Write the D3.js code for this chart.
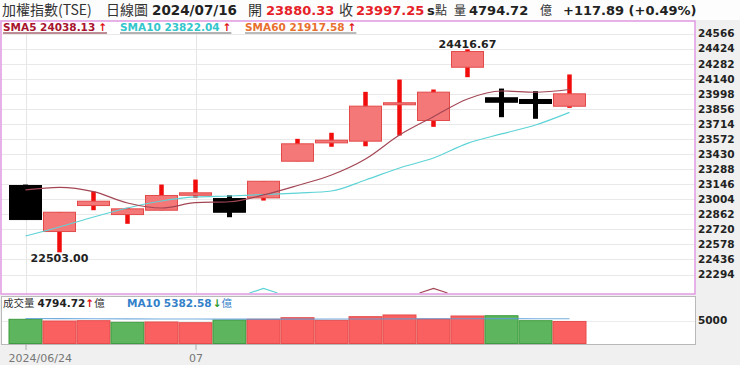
<!DOCTYPE html>
<html>
<head>
<meta charset="utf-8">
<script src="https://cdn.jsdelivr.net/npm/d3@7"></script>
<style>
  body { margin: 0; background: #eff0ef; }
  svg { display: block; }
  .num { font-family: "DejaVu Sans", Verdana, sans-serif; font-weight: bold; }
  .cjk { font-family: "Noto Sans CJK TC", "Noto Sans CJK SC", sans-serif; }
  .plain { font-family: "DejaVu Sans", Verdana, sans-serif; }
</style>
</head>
<body>
<svg id="chart" width="740" height="365"></svg>
<script>
// daily bars, 2024/06/24 .. 2024/07/16
var dates = ["2024/06/24", "2024/06/25", "2024/06/26", "2024/06/27", "2024/06/28",
  "2024/07/01", "2024/07/02", "2024/07/03", "2024/07/04", "2024/07/05",
  "2024/07/08", "2024/07/09", "2024/07/10", "2024/07/11", "2024/07/12",
  "2024/07/15", "2024/07/16"];
var openVals  = [23133, 22699, 22944, 22859, 22900, 23041, 23010, 23016, 23362, 23535, 23551, 23894, 23746, 24248, 23960, 23944, 23880.33];
var highVals  = [23142, 22881, 23076, 22923, 23142, 23189, 23041, 23173, 23573, 23630, 24016, 24132, 24038, 24416.67, 24047, 24022, 24180];
var lowVals   = [22812, 22503, 22900, 22772, 22900, 23017, 22834, 22991, 23362, 23498, 23503, 23604, 23686, 24154, 23777, 23762, 23865];
var closeVals = [22812, 22881, 22985, 22913, 23039, 23064, 22881, 23173, 23526, 23560, 23881, 23913, 24013, 24396, 23918, 23906, 23997.25];

var sma5  = [23091, 23116, 23075, 22968, 22921, 22971, 22980, 23044, 23133, 23232, 23383, 23609, 23782, 23949, 24024, 24012, 24038.13];
var sma10 = [22657, 22742, 22836, 22921, 22987, 23025, 23034, 23048, 23062, 23081, 23185, 23298, 23392, 23530, 23619, 23703, 23822.04];
var sma60Last = 21917.58;

// volume in 億
var volume = [5260, 4890, 4960, 4610, 4670, 4520, 5110, 5260, 5610, 5040, 5830, 6200, 5330, 5980, 6040, 4960, 4794.72];
var volMa10 = [5420, 5400, 5380, 5350, 5330, 5310, 5300, 5290, 5300, 5310, 5330, 5360, 5370, 5390, 5400, 5390, 5382.58];

var priceTicks = [24566, 24424, 24282, 24140, 23998, 23856, 23714, 23572, 23430, 23288, 23146, 23004, 22862, 22720, 22578, 22436, 22294];
var volTicks = [5000];
var xTickDates = ["2024/06/24", "2024/07/01"];
var xTickText = ["2024/06/24", "07"];

var sma10MarkDates = ["2024/07/03"];
var sma5MarkDates = ["2024/07/10"];

var dayChange = 117.89;
var dayChangePct = 0.49;

var svg = d3.select("#chart");
var panel = {left: 1, right: 695, top: 21, bottom: 294};
var volPanel = {left: 1, right: 695, top: 296, bottom: 344};
var last = dates.length - 1;
var fmt2 = d3.format(".2f");

var x = d3.scalePoint().domain(dates).range([25.5, 569.5]);
var y = d3.scaleLinear().domain([22294, 24566]).range([274.5, 33.5]);
var yv = d3.scaleLinear().domain([0, 5000]).range([343.5, 320.5]);
var bodyW = 32;

var RED = "#e61e28";
var SMA5_LINE = "#a34654", SMA10_LINE = "#5ed3d6";

var drawBackground = function() {
  svg.append("rect").attr("width", 740).attr("height", 20).attr("fill", "#fdfdfd");
  svg.append("rect")
    .attr("x", panel.left).attr("y", panel.top)
    .attr("width", panel.right - panel.left).attr("height", panel.bottom - panel.top)
    .attr("fill", "#fff");
  svg.append("rect")
    .attr("x", volPanel.left).attr("y", volPanel.top)
    .attr("width", volPanel.right - volPanel.left).attr("height", volPanel.bottom - volPanel.top)
    .attr("fill", "#fff");
  svg.append("clipPath").attr("id", "clipMain").append("rect")
    .attr("x", panel.left).attr("y", panel.top)
    .attr("width", panel.right - panel.left).attr("height", panel.bottom - panel.top);
};

var drawGrid = function() {
  var g = svg.append("g").attr("clip-path", "url(#clipMain)");
  g.selectAll("line.h").data(priceTicks).enter().append("line")
    .attr("x1", panel.left).attr("x2", panel.right)
    .attr("y1", function (d) { return Math.round(y(d)) + 0.5; })
    .attr("y2", function (d) { return Math.round(y(d)) + 0.5; })
    .attr("stroke", "#e9e9e9");
  g.selectAll("line.v").data(xTickDates).enter().append("line")
    .attr("x1", function (d) { return Math.round(x(d)) + 0.5; })
    .attr("x2", function (d) { return Math.round(x(d)) + 0.5; })
    .attr("y1", 33).attr("y2", panel.bottom)
    .attr("stroke", "#e6e6e6");
  // volume grid
  svg.selectAll("line.vg").data(volTicks).enter().append("line")
    .attr("x1", volPanel.left).attr("x2", volPanel.right)
    .attr("y1", function (d) { return Math.round(yv(d)) + 0.5; })
    .attr("y2", function (d) { return Math.round(yv(d)) + 0.5; })
    .attr("stroke", "#ececec");
};

var drawMarks = function(list, color) {
  svg.selectAll(null).data(list).enter().append("path")
    .attr("d", function (d) {
      var cx = x(d);
      return "M" + (cx - 14) + ",293 L" + cx + ",288.5 L" + (cx + 14) + ",293";
    })
    .attr("fill", "none").attr("stroke", color).attr("stroke-width", 1.2);
};

var drawCandles = function() {
  var g = svg.append("g").attr("clip-path", "url(#clipMain)");
  var idx = d3.range(dates.length);
  var isUp = function (i) { return closeVals[i] >= openVals[i]; };

  g.selectAll("line.wick").data(idx).enter().append("line")
    .attr("x1", function (i) { return x(dates[i]); })
    .attr("x2", function (i) { return x(dates[i]); })
    .attr("y1", function (i) { return y(highVals[i]); })
    .attr("y2", function (i) { return y(lowVals[i]); })
    .attr("stroke", function (i) { return isUp(i) ? "#f20d0d" : "#000"; })
    .attr("stroke-width", function (i) { return isUp(i) ? 4.5 : 5; });

  g.selectAll("rect.body").data(idx).enter().append("rect")
    .attr("x", function (i) { return x(dates[i]) - bodyW / 2; })
    .attr("y", function (i) { return y(Math.max(openVals[i], closeVals[i])); })
    .attr("width", bodyW)
    .attr("height", function (i) { return Math.max(1.5, Math.abs(y(openVals[i]) - y(closeVals[i]))); })
    .attr("fill", function (i) { return isUp(i) ? "#f57878" : "#000"; })
    .attr("stroke", function (i) { return isUp(i) ? "#e24a4a" : "#000"; })
    .attr("stroke-width", 1);
};

var drawLine = function(values, color) {
  var line = d3.line()
    .x(function (d, i) { return x(dates[i]); })
    .y(function (d) { return y(d); })
    .curve(d3.curveMonotoneX);
  svg.append("path").attr("clip-path", "url(#clipMain)")
    .attr("d", line(values))
    .attr("fill", "none").attr("stroke", color).attr("stroke-width", 1.2);
};

var labelExtremes = function() {
  var hi = d3.maxIndex(highVals), lo = d3.minIndex(lowVals);
  svg.append("text").attr("class", "num").attr("font-size", 11)
    .attr("text-anchor", "middle").attr("fill", "#222")
    .attr("x", x(dates[hi])).attr("y", y(highVals[hi]) - 1.5)
    .text(fmt2(highVals[hi]));
  svg.append("text").attr("class", "num").attr("font-size", 11)
    .attr("text-anchor", "middle").attr("fill", "#222")
    .attr("x", x(dates[lo])).attr("y", y(lowVals[lo]) + 10)
    .text(fmt2(lowVals[lo]));
};

var drawVolume = function() {
  var idx = d3.range(dates.length);
  var isUp = function (i) {
    var prev = i === 0 ? openVals[0] : closeVals[i - 1];
    return closeVals[i] >= prev;
  };
  svg.selectAll("rect.vol").data(idx).enter().append("rect")
    .attr("x", function (i) { return x(dates[i]) - 16.5; })
    .attr("y", function (i) { return yv(volume[i]); })
    .attr("width", 33)
    .attr("height", function (i) { return yv(0) - yv(volume[i]); })
    .attr("fill", function (i) { return isUp(i) ? "#fb6060" : "#5db65d"; })
    .attr("stroke", function (i) { return isUp(i) ? "#e44c4c" : "#3f9b3f"; })
    .attr("stroke-width", 1);
  var line = d3.line()
    .x(function (d, i) { return x(dates[i]); })
    .y(function (d) { return yv(d); });
  svg.append("path").attr("d", line(volMa10))
    .attr("fill", "none").attr("stroke", "#5d9fd8").attr("stroke-width", 1.1).attr("opacity", 0.85);
};

var drawBorders = function() {
  svg.append("rect")
    .attr("x", panel.left).attr("y", panel.top)
    .attr("width", panel.right - panel.left).attr("height", panel.bottom - panel.top)
    .attr("fill", "none").attr("stroke", "#e29be2").attr("stroke-width", 1.5);
  svg.append("rect")
    .attr("x", volPanel.left + 0.5).attr("y", volPanel.top + 0.5)
    .attr("width", volPanel.right - volPanel.left).attr("height", volPanel.bottom - volPanel.top)
    .attr("fill", "none").attr("stroke", "#b9b9b9").attr("stroke-width", 1);
};

var drawAxes = function() {
  var ay = svg.append("g").attr("transform", "translate(" + panel.right + ",0)")
    .call(d3.axisRight(y).tickValues(priceTicks).tickSize(0).tickPadding(3).tickFormat(d3.format("d")));
  var av = svg.append("g").attr("transform", "translate(" + volPanel.right + ",0)")
    .call(d3.axisRight(yv).tickValues(volTicks).tickSize(0).tickPadding(3).tickFormat(d3.format("d")));
  [ay, av].forEach(function (a) {
    a.select(".domain").remove();
    a.selectAll("text").attr("class", "num").attr("font-size", 10.5).attr("fill", "#222");
  });

  var ax = svg.append("g").attr("transform", "translate(0," + volPanel.bottom + ")")
    .call(d3.axisBottom(x).tickValues(xTickDates).tickSize(6).tickPadding(6)
      .tickFormat(function (d) { return xTickText[xTickDates.indexOf(d)]; }));
  ax.select(".domain").remove();
  ax.selectAll("line").attr("stroke", "#aaa");
  ax.selectAll("text").attr("class", "plain").attr("font-size", 11).attr("fill", "#777")
    .attr("dy", "0.5em")
    .attr("x", function (d) {
      var w = this.getComputedTextLength();
      var cx = x(d);
      return Math.max(cx, 8 + w / 2) - cx;
    });
};

var drawLegend = function() {
  var items = [
    {name: "SMA5", value: sma5[last], color: "#a8142f", ul: "#7a1a2a", x: 3},
    {name: "SMA10", value: sma10[last], color: "#33c6cc", ul: "#666", x: 120},
    {name: "SMA60", value: sma60Last, color: "#e8702e", ul: "#777", x: 245}
  ];
  items.forEach(function (d) {
    var t = svg.append("text").attr("class", "num").attr("font-size", 10.5)
      .attr("x", d.x).attr("y", 31);
    t.append("tspan").attr("fill", d.color).text(d.name + " " + fmt2(d.value));
    t.append("tspan").attr("fill", "#e01010").attr("dx", 3).text("↑");
    var w = t.node().getComputedTextLength() + 3;
    svg.append("line").attr("x1", d.x).attr("x2", d.x + w)
      .attr("y1", 33).attr("y2", 33).attr("stroke", d.ul).attr("stroke-width", 1);
  });

  var v = svg.append("text").attr("x", 3).attr("y", 307).attr("font-size", 10.5);
  v.append("tspan").attr("class", "cjk").attr("fill", "#333").text("成交量");
  v.append("tspan").attr("class", "num").attr("fill", "#222").attr("dx", 3).text(fmt2(volume[last]));
  v.append("tspan").attr("class", "num").attr("fill", "#e01010").text("↑");
  v.append("tspan").attr("class", "cjk").attr("fill", "#333").text("億");

  var m = svg.append("text").attr("x", 127).attr("y", 307).attr("font-size", 10.5);
  m.append("tspan").attr("class", "num").attr("fill", "#3481c9").text("MA10 " + fmt2(volMa10[last]));
  m.append("tspan").attr("class", "num").attr("fill", "#2c9a2c").attr("dx", 1).text("↓");
  m.append("tspan").attr("class", "cjk").attr("fill", "#3481c9").text("億");
};

var drawHeader = function() {
  var sign = dayChange >= 0 ? "+" : "";
  var parts = [
    {t: "加權指數(TSE)", x: 2, c: "cjk", f: "#333", s: 14},
    {t: "日線圖", x: 106, c: "cjk", f: "#333", s: 14},
    {t: dates[last], x: 152, c: "num", f: "#222", s: 13.5},
    {t: "開", x: 248, c: "cjk", f: "#333", s: 14},
    {t: fmt2(openVals[last]), x: 266, c: "num", f: RED, s: 13},
    {t: "收", x: 339, c: "cjk", f: "#333", s: 14},
    {t: fmt2(closeVals[last]), x: 356, c: "num", f: RED, s: 13},
    {t: "s", x: 427, c: "num", f: "#222", s: 13},
    {t: "點", x: 435, c: "cjk", f: "#333", s: 12},
    {t: "量", x: 454, c: "cjk", f: "#333", s: 12},
    {t: fmt2(volume[last]), x: 469, c: "num", f: "#222", s: 13},
    {t: "億", x: 540, c: "cjk", f: "#333", s: 12},
    {t: sign + fmt2(dayChange) + " (" + sign + fmt2(dayChangePct) + "%)", x: 563, c: "num", f: "#222", s: 13}
  ];
  svg.selectAll("text.hdr").data(parts).enter().append("text")
    .attr("class", function (d) { return d.c; })
    .attr("x", function (d) { return d.x; })
    .attr("y", 15)
    .attr("font-size", function (d) { return d.s; })
    .attr("fill", function (d) { return d.f; })
    .text(function (d) { return d.t; });
};

drawBackground();
drawGrid();
drawMarks(sma10MarkDates, SMA10_LINE);
drawMarks(sma5MarkDates, SMA5_LINE);
drawCandles();
drawLine(sma10, SMA10_LINE);
drawLine(sma5, SMA5_LINE);
labelExtremes();
drawVolume();
drawBorders();
drawAxes();
drawLegend();
drawHeader();
</script>
</body>
</html>
